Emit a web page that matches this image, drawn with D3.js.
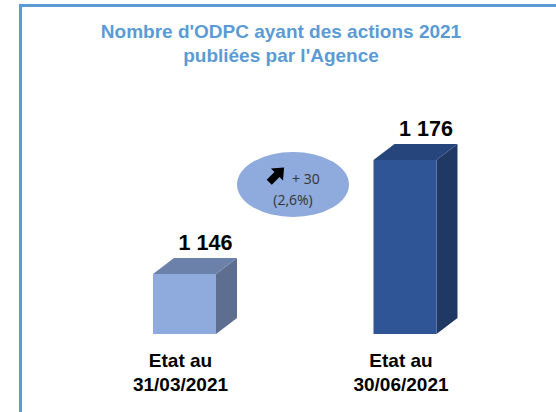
<!DOCTYPE html>
<html>
<head>
<meta charset="utf-8">
<script src="https://cdn.jsdelivr.net/npm/d3@7"></script>
<style>
  html, body { margin: 0; padding: 0; background: #fff; }
  svg { display: block; }
</style>
</head>
<body>
<div id="chart"></div>
<script>
const categories = ["Etat au\n31/03/2021", "Etat au\n30/06/2021"];
const values = [1146, 1176];
const valueLabels = ["1 146", "1 176"];
const titleLines = ["Nombre d'ODPC ayant des actions 2021", "publiées par l'Agence"];
const changeLines = ["+ 30", "(2,6%)"];

const width = 556;
const height = 412;
const barW = 63;
const depthX = 21;
const depthY = 16;
const baseY = 334;

const palettes = [
  { front: "#8faadc", top: "#6b81a9", side: "#5d6e91" },
  { front: "#2f5597", top: "#26457c", side: "#203864" },
];

const svg = d3.select("#chart").append("svg")
  .attr("width", width)
  .attr("height", height);

// frame (only top and left visible)
svg.append("path")
  .attr("d", `M20.5,${height} V5.5 H${width}`)
  .attr("fill", "none")
  .attr("stroke", "#5b9bd5")
  .attr("stroke-width", 3);

// title
svg.append("g")
  .selectAll("text")
  .data(titleLines)
  .join("text")
  .attr("x", 281)
  .attr("y", (d, i) => 38 + i * 24)
  .attr("text-anchor", "middle")
  .attr("font-family", "Liberation Sans, Arial, sans-serif")
  .attr("font-weight", "bold")
  .attr("font-size", 19)
  .attr("fill", "#5b9bd5")
  .text((d) => d);

const x = d3.scalePoint().domain(categories).range([184.5, 405]);
const y = d3.scaleLinear().domain([1130.2, 1176]).range([baseY, 160]);

const bars = svg.append("g")
  .selectAll("g")
  .data(values.map((v, i) => ({ cat: categories[i], v, label: valueLabels[i], pal: palettes[i] })))
  .join("g");

// side face
bars.append("path")
  .attr("fill", (d) => d.pal.side)
  .attr("d", (d) => {
    const x1 = x(d.cat) + barW / 2;
    const yt = y(d.v);
    return `M${x1},${yt} L${x1 + depthX},${yt - depthY} L${x1 + depthX},${baseY - depthY} L${x1},${baseY} Z`;
  });

// top face
bars.append("path")
  .attr("fill", (d) => d.pal.top)
  .attr("d", (d) => {
    const x0 = x(d.cat) - barW / 2;
    const x1 = x(d.cat) + barW / 2;
    const yt = y(d.v);
    return `M${x0},${yt} L${x0 + depthX},${yt - depthY} L${x1 + depthX},${yt - depthY} L${x1},${yt} Z`;
  });

// front face
bars.append("rect")
  .attr("x", (d) => x(d.cat) - barW / 2)
  .attr("y", (d) => y(d.v))
  .attr("width", barW)
  .attr("height", (d) => baseY - y(d.v))
  .attr("fill", (d) => d.pal.front);

// value labels
bars.append("text")
  .attr("x", (d) => x(d.cat) + depthX)
  .attr("y", (d) => y(d.v) - depthY - 8)
  .attr("text-anchor", "middle")
  .attr("font-family", "Liberation Sans, Arial, sans-serif")
  .attr("font-weight", "bold")
  .attr("font-size", 21.5)
  .attr("fill", "#000")
  .text((d) => d.label);

// category labels
bars.append("text")
  .attr("text-anchor", "middle")
  .attr("font-family", "Liberation Sans, Arial, sans-serif")
  .attr("font-weight", "bold")
  .attr("font-size", 19)
  .attr("fill", "#000")
  .selectAll("tspan")
  .data((d) => d.cat.split("\n").map((t) => ({ t, cx: x(d.cat) - 4 })))
  .join("tspan")
  .attr("x", (d) => d.cx)
  .attr("y", (d, i) => 367 + i * 24)
  .text((d) => d.t);

// change bubble
const bubble = svg.append("g").attr("transform", "translate(293,184.5)");
bubble.append("ellipse")
  .attr("rx", 56)
  .attr("ry", 32.5)
  .attr("fill", "#8faadc");

// chunky arrow pointing up-right
bubble.append("path")
  .attr("transform", "translate(-16,-10) rotate(-45)")
  .attr("d", "M-11,-3.6 L0,-3.6 L0,-8.5 L10,0 L0,8.5 L0,3.6 L-11,3.6 Z")
  .attr("fill", "#000");

bubble.append("g")
  .selectAll("text")
  .data(changeLines)
  .join("text")
  .attr("x", (d, i) => (i === 0 ? -1 : 0))
  .attr("y", (d, i) => -1 + i * 21)
  .attr("text-anchor", (d, i) => (i === 0 ? "start" : "middle"))
  .attr("font-family", "Open Sans, sans-serif")
  .attr("font-size", 14)
  .attr("fill", "#333")
  .text((d) => d);
</script>
</body>
</html>
